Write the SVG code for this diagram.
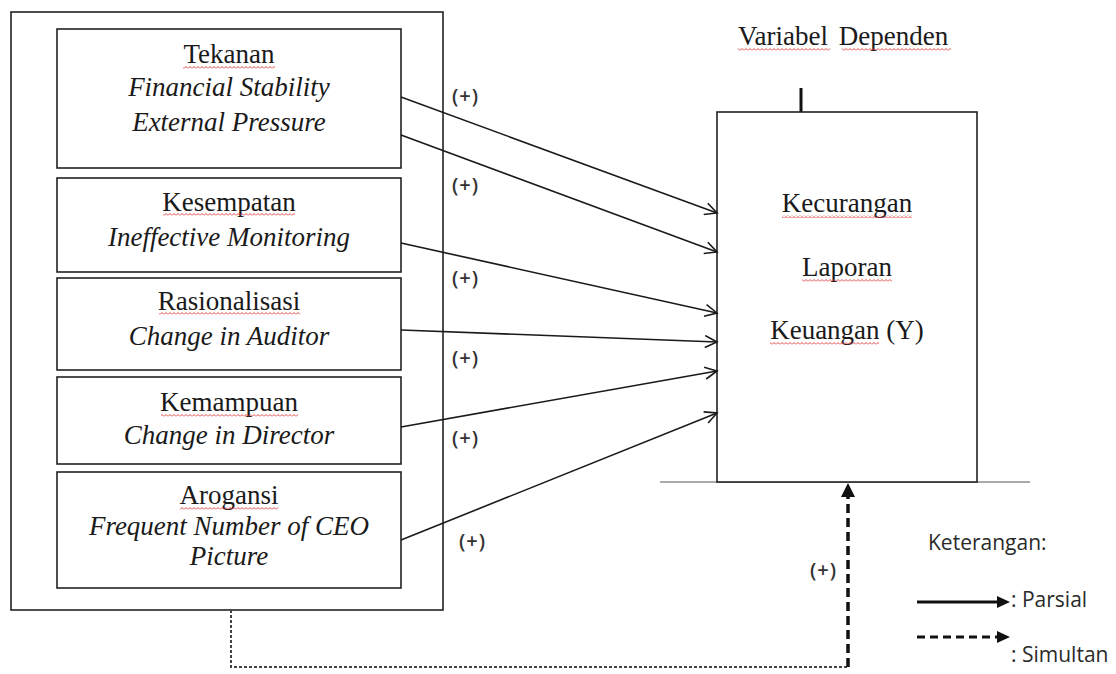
<svg xmlns="http://www.w3.org/2000/svg" width="1116" height="674" viewBox="0 0 1116 674">
<style>
.box{fill:#fff;stroke:#222;stroke-width:1.6}
.t{font-family:"Liberation Serif","Times New Roman",serif;font-size:27px;fill:#1a1a1a;text-anchor:middle}
.i{font-style:italic}
.p{font-family:"Open Sans","Liberation Sans",sans-serif;font-size:20px;font-weight:600;fill:#333;letter-spacing:1px}
.lg{font-family:"Open Sans","Liberation Sans",sans-serif;font-size:21px;fill:#2a2a2a}
.c{fill:none;stroke:#1a1a1a;stroke-width:1.6}
.wv{fill:url(#wavy)}
</style>
<defs>
<marker id="open" markerUnits="userSpaceOnUse" markerWidth="15" markerHeight="14" refX="13" refY="7" orient="auto"><path d="M1,1 L13,7 L1,13" fill="none" stroke="#1a1a1a" stroke-width="1.6"/></marker>
<pattern id="wavy" width="4" height="3" patternUnits="userSpaceOnUse"><path d="M0,2.5 L2,0.5 L4,2.5" fill="none" stroke="#d33" stroke-width="0.9"/></pattern>
</defs>
<rect width="1116" height="674" fill="#fff"/>

<g id="outer"><rect class="box" x="11" y="12" width="432" height="598"/></g>

<g id="tekanan">
<rect class="box" x="57" y="29" width="344" height="139"/>
<text class="t" x="229" y="63">Tekanan</text>
<text class="t i" x="229" y="96">Financial Stability</text>
<text class="t i" x="229" y="131">External Pressure</text>
<rect class="wv" x="183" y="66" width="92" height="3"/>
</g>
<g id="kesempatan">
<rect class="box" x="57" y="178" width="344" height="94"/>
<text class="t" x="229" y="211">Kesempatan</text>
<text class="t i" x="229" y="246">Ineffective Monitoring</text>
<rect class="wv" x="163" y="213" width="132" height="3"/>
</g>
<g id="rasionalisasi">
<rect class="box" x="57" y="278" width="344" height="92"/>
<text class="t" x="229" y="310">Rasionalisasi</text>
<text class="t i" x="229" y="345">Change in Auditor</text>
<rect class="wv" x="159" y="312" width="141" height="3"/>
</g>
<g id="kemampuan">
<rect class="box" x="57" y="377" width="344" height="87"/>
<text class="t" x="229" y="411">Kemampuan</text>
<text class="t i" x="229" y="444">Change in Director</text>
<rect class="wv" x="161" y="414" width="137" height="3"/>
</g>
<g id="arogansi">
<rect class="box" x="57" y="472" width="344" height="116"/>
<text class="t" x="229" y="504">Arogansi</text>
<text class="t i" x="229" y="535">Frequent Number of CEO</text>
<text class="t i" x="229" y="565">Picture</text>
<rect class="wv" x="180" y="507" width="98" height="3"/>
</g>

<g id="label-dependen">
<text class="t" x="738" y="45" style="text-anchor:start;word-spacing:4px">Variabel Dependen</text>
<rect class="wv" x="738" y="48" width="92" height="3"/>
<rect class="wv" x="842" y="48" width="109" height="3"/>
<line x1="801" y1="88" x2="801" y2="117" stroke="#111" stroke-width="3"/>
</g>

<line x1="660" y1="482" x2="1030" y2="482" stroke="#aaa" stroke-width="2"/>

<g id="kecurangan">
<rect class="box" x="717" y="112" width="260" height="370"/>
<text class="t" x="847" y="212">Kecurangan</text>
<text class="t" x="847" y="276">Laporan</text>
<text class="t" x="847" y="339">Keuangan (Y)</text>
<rect class="wv" x="782" y="215" width="130" height="3"/>
<rect class="wv" x="802" y="279" width="90" height="3"/>
<rect class="wv" x="770" y="342" width="109" height="3"/>
</g>

<g id="connectors">
<line class="c" x1="401" y1="97" x2="717" y2="213" marker-end="url(#open)"/>
<line class="c" x1="401" y1="135" x2="717" y2="252" marker-end="url(#open)"/>
<line class="c" x1="401" y1="243" x2="717" y2="313" marker-end="url(#open)"/>
<line class="c" x1="401" y1="330" x2="717" y2="342" marker-end="url(#open)"/>
<line class="c" x1="401" y1="427" x2="717" y2="371" marker-end="url(#open)"/>
<line class="c" x1="401" y1="540" x2="717" y2="413" marker-end="url(#open)"/>
<path d="M231,610 V667 H848" fill="none" stroke="#444" stroke-width="2" stroke-dasharray="3 2"/>
<path d="M848,667 V497" fill="none" stroke="#111" stroke-width="3.5" stroke-dasharray="9 5"/>
<polygon points="848,483 841,497 855,497" fill="#111"/>
<text class="p" x="452" y="103">(+)</text>
<text class="p" x="452" y="192">(+)</text>
<text class="p" x="452" y="285">(+)</text>
<text class="p" x="452" y="365">(+)</text>
<text class="p" x="452" y="445">(+)</text>
<text class="p" x="459" y="548">(+)</text>
<text class="p" x="810" y="577">(+)</text>
</g>

<g id="legend">
<text class="lg" x="928" y="550">Keterangan:</text>
<line x1="917" y1="602" x2="998" y2="602" stroke="#111" stroke-width="3"/>
<polygon points="1010,602 997,596 997,608" fill="#111"/>
<text class="lg" x="1011" y="607">: Parsial</text>
<line x1="917" y1="637" x2="998" y2="637" stroke="#111" stroke-width="3" stroke-dasharray="8 5"/>
<polygon points="1010,637 997,631 997,643" fill="#111"/>
<text class="lg" x="1011" y="662">: Simultan</text>
</g>
</svg>
